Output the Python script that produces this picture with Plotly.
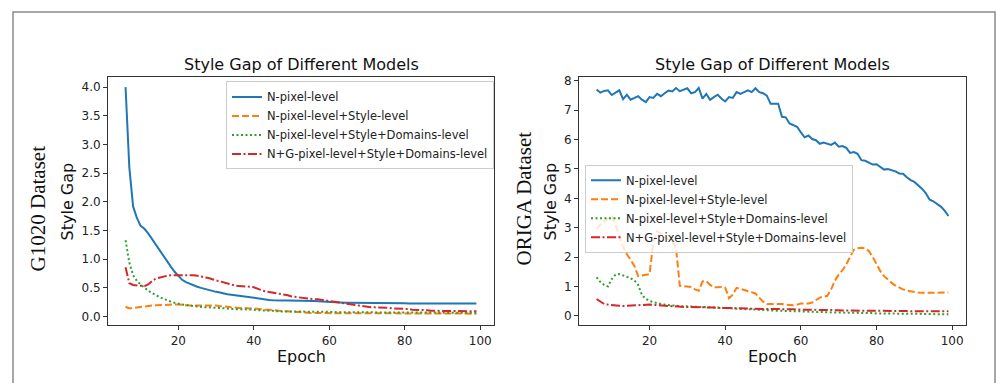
import plotly.graph_objects as go

W, H = 997, 383

epochs = list(range(6, 100))

# ---- G1020 dataset (left panel) ----
g_npixel = [4.00, 2.60, 1.92, 1.72, 1.58, 1.53, 1.45, 1.35, 1.25, 1.15,
            1.06, 0.97, 0.87, 0.78, 0.70, 0.64, 0.60, 0.57, 0.55, 0.52,
            0.50, 0.48, 0.46, 0.44, 0.43, 0.42, 0.40, 0.39, 0.38, 0.37,
            0.36, 0.35, 0.34, 0.33, 0.32, 0.31, 0.30, 0.295, 0.29, 0.285,
            0.28, 0.28, 0.28, 0.28, 0.28, 0.28, 0.28, 0.275, 0.27, 0.27,
            0.27, 0.265, 0.26, 0.26, 0.26, 0.255, 0.25, 0.245, 0.24, 0.24,
            0.24, 0.235, 0.235, 0.235, 0.235, 0.23, 0.23, 0.23, 0.23, 0.23,
            0.23, 0.23, 0.23, 0.23, 0.23, 0.225, 0.225, 0.22, 0.22, 0.22,
            0.22, 0.22, 0.22, 0.225, 0.225, 0.225, 0.225, 0.225, 0.225, 0.225,
            0.225, 0.225, 0.225, 0.225]
g_style = [0.17, 0.14, 0.15, 0.16, 0.17, 0.18, 0.185, 0.19, 0.195, 0.20,
           0.20, 0.21, 0.21, 0.21, 0.21, 0.20, 0.20, 0.19, 0.19, 0.19,
           0.20, 0.20, 0.20, 0.20, 0.19, 0.18, 0.18, 0.17, 0.16, 0.15,
           0.15, 0.15, 0.14, 0.14, 0.14, 0.13, 0.12, 0.12, 0.12, 0.11,
           0.10, 0.10, 0.09, 0.09, 0.08, 0.08, 0.08, 0.07, 0.07, 0.06,
           0.06, 0.06, 0.06, 0.06, 0.06, 0.06, 0.06, 0.06, 0.06, 0.06,
           0.055, 0.055, 0.055, 0.055, 0.055, 0.055, 0.055, 0.055, 0.055, 0.055,
           0.055, 0.055, 0.055, 0.055, 0.05, 0.05, 0.05, 0.05, 0.05, 0.05,
           0.05, 0.05, 0.05, 0.05, 0.05, 0.05, 0.05, 0.05, 0.05, 0.05,
           0.05, 0.05, 0.05, 0.05]
g_domain = [1.33, 0.94, 0.72, 0.62, 0.56, 0.50, 0.45, 0.41, 0.37, 0.34,
            0.31, 0.28, 0.26, 0.24, 0.22, 0.21, 0.20, 0.19, 0.18, 0.17,
            0.17, 0.16, 0.16, 0.15, 0.15, 0.15, 0.14, 0.14, 0.13, 0.13,
            0.13, 0.12, 0.12, 0.12, 0.12, 0.11, 0.11, 0.10, 0.10, 0.10,
            0.09, 0.09, 0.09, 0.09, 0.09, 0.085, 0.085, 0.085, 0.08, 0.08,
            0.08, 0.08, 0.08, 0.08, 0.08, 0.08, 0.075, 0.075, 0.075, 0.075,
            0.075, 0.075, 0.075, 0.075, 0.07, 0.07, 0.07, 0.07, 0.07, 0.07,
            0.07, 0.07, 0.07, 0.07, 0.07, 0.07, 0.07, 0.07, 0.07, 0.07,
            0.065, 0.065, 0.065, 0.065, 0.065, 0.065, 0.065, 0.065, 0.065, 0.065,
            0.065, 0.065, 0.065, 0.065]
g_ng = [0.86, 0.58, 0.55, 0.54, 0.54, 0.53, 0.56, 0.62, 0.66, 0.68,
        0.70, 0.71, 0.72, 0.72, 0.72, 0.72, 0.73, 0.72, 0.72, 0.71,
        0.70, 0.69, 0.67, 0.65, 0.63, 0.61, 0.59, 0.57, 0.55, 0.54,
        0.53, 0.53, 0.52, 0.52, 0.51, 0.48, 0.46, 0.44, 0.43, 0.41,
        0.40, 0.39, 0.38, 0.37, 0.35, 0.34, 0.33, 0.32, 0.31, 0.31,
        0.30, 0.30, 0.29, 0.28, 0.27, 0.26, 0.24, 0.23, 0.22, 0.21,
        0.20, 0.19, 0.18, 0.17, 0.17, 0.16, 0.16, 0.16, 0.15, 0.15,
        0.15, 0.14, 0.14, 0.14, 0.13, 0.13, 0.12, 0.12, 0.12, 0.11,
        0.11, 0.10, 0.10, 0.10, 0.10, 0.09, 0.09, 0.09, 0.09, 0.09,
        0.09, 0.09, 0.09, 0.09]

# ---- ORIGA dataset (right panel) ----
o_npixel = [7.71, 7.60, 7.66, 7.68, 7.52, 7.60, 7.68, 7.38, 7.53, 7.36,
            7.42, 7.48, 7.36, 7.28, 7.45, 7.42, 7.56, 7.48, 7.58, 7.67,
            7.64, 7.76, 7.65, 7.70, 7.75, 7.58, 7.62, 7.76, 7.40, 7.56,
            7.36, 7.45, 7.53, 7.40, 7.30, 7.45, 7.42, 7.62, 7.56, 7.62,
            7.68, 7.62, 7.75, 7.62, 7.58, 7.50, 7.22, 7.22, 7.22, 6.78,
            6.76, 6.55, 6.50, 6.44, 6.25, 6.08, 6.14, 6.02, 5.98, 5.86,
            5.90, 5.87, 5.82, 5.90, 5.76, 5.78, 5.72, 5.55, 5.58, 5.52,
            5.30, 5.28, 5.20, 5.15, 5.16, 5.06, 4.98, 5.00, 4.97, 4.92,
            4.85, 4.84, 4.72, 4.62, 4.56, 4.45, 4.33, 4.18, 3.96, 3.90,
            3.82, 3.72, 3.58, 3.40]
o_style = [2.95, 3.10, 3.20, 3.30, 3.40, 3.10, 2.70, 2.35, 2.10, 1.90,
           1.70, 1.35, 1.37, 1.38, 1.42, 2.50, 2.88, 2.80, 2.70, 2.60,
           2.55, 2.30, 1.02, 1.00, 1.00, 0.98, 0.90, 0.85, 1.17, 1.18,
           1.05, 0.97, 0.97, 0.98, 0.96, 0.60, 0.72, 0.95, 0.92, 0.88,
           0.84, 0.80, 0.76, 0.62, 0.48, 0.40, 0.40, 0.42, 0.42, 0.40,
           0.38, 0.36, 0.36, 0.38, 0.42, 0.42, 0.42, 0.45, 0.55, 0.62,
           0.65, 0.68, 0.90, 1.20, 1.40, 1.55, 1.75, 2.00, 2.25, 2.30,
           2.32, 2.30, 2.20, 2.00, 1.75, 1.52, 1.35, 1.22, 1.12, 1.03,
           0.96, 0.90, 0.86, 0.83, 0.81, 0.79, 0.78, 0.78, 0.78, 0.78,
           0.78, 0.78, 0.79, 0.79]
o_domain = [1.31, 1.15, 1.05, 1.00, 1.25, 1.40, 1.42, 1.38, 1.33, 1.28,
            1.20, 1.05, 0.70, 0.58, 0.50, 0.46, 0.42, 0.40, 0.38, 0.36,
            0.35, 0.34, 0.33, 0.33, 0.32, 0.32, 0.31, 0.30, 0.30, 0.29,
            0.29, 0.28, 0.28, 0.27, 0.26, 0.26, 0.25, 0.24, 0.24, 0.23,
            0.22, 0.22, 0.21, 0.20, 0.20, 0.19, 0.18, 0.18, 0.17, 0.17,
            0.16, 0.16, 0.15, 0.15, 0.15, 0.14, 0.14, 0.13, 0.13, 0.13,
            0.12, 0.12, 0.12, 0.11, 0.11, 0.11, 0.10, 0.10, 0.10, 0.10,
            0.09, 0.09, 0.09, 0.09, 0.08, 0.08, 0.08, 0.08, 0.08, 0.07,
            0.07, 0.07, 0.07, 0.07, 0.06, 0.06, 0.06, 0.06, 0.06, 0.06,
            0.05, 0.05, 0.05, 0.05]
o_ng = [0.57, 0.47, 0.40, 0.38, 0.36, 0.35, 0.34, 0.33, 0.34, 0.35,
        0.36, 0.37, 0.38, 0.38, 0.38, 0.37, 0.36, 0.34, 0.33, 0.32,
        0.32, 0.31, 0.31, 0.30, 0.30, 0.30, 0.29, 0.29, 0.29, 0.28,
        0.28, 0.28, 0.27, 0.27, 0.27, 0.26, 0.26, 0.26, 0.25, 0.25,
        0.25, 0.24, 0.24, 0.24, 0.24, 0.23, 0.23, 0.23, 0.23, 0.22,
        0.22, 0.22, 0.22, 0.21, 0.21, 0.21, 0.21, 0.20, 0.20, 0.20,
        0.20, 0.19, 0.19, 0.19, 0.19, 0.18, 0.18, 0.18, 0.18, 0.18,
        0.17, 0.17, 0.17, 0.17, 0.17, 0.17, 0.16, 0.16, 0.16, 0.16,
        0.16, 0.16, 0.16, 0.15, 0.15, 0.15, 0.15, 0.15, 0.15, 0.15,
        0.15, 0.15, 0.15, 0.15]

names = ["N-pixel-level", "N-pixel-level+Style-level",
         "N-pixel-level+Style+Domains-level", "N+G-pixel-level+Style+Domains-level"]
colors = ["#1f77b4", "#ff7f0e", "#2ca02c", "#d62728"]
dashes = ["solid", "7px,3px", "2px,2.5px", "9px,2.5px,2px,2.5px"]

SANS = "DejaVu Sans"
SERIF = "Liberation Serif"

fig = go.Figure()
for i, ys in enumerate([g_npixel, g_style, g_domain, g_ng]):
    fig.add_trace(go.Scatter(x=epochs, y=ys, mode="lines", name=names[i],
                             line=dict(color=colors[i], width=2, dash=dashes[i]),
                             xaxis="x", yaxis="y", legend="legend"))
for i, ys in enumerate([o_npixel, o_style, o_domain, o_ng]):
    fig.add_trace(go.Scatter(x=epochs, y=ys, mode="lines", name=names[i],
                             line=dict(color=colors[i], width=2, dash=dashes[i]),
                             xaxis="x2", yaxis="y2", legend="legend2"))

def px(x):
    return x / W

def py(y):
    return 1 - y / H

axis_common = dict(showline=True, mirror=True, linecolor="#333", linewidth=1,
                   ticks="outside", ticklen=4, tickcolor="#333", showgrid=False,
                   zeroline=False, tickfont=dict(family=SANS, size=12, color="#222"))

legend_common = dict(xanchor="left", yanchor="top",
                     bgcolor="rgba(255,255,255,0.8)", bordercolor="#cccccc", borderwidth=1,
                     font=dict(family=SANS, size=11.5, color="#222"), tracegroupgap=0)

dom_y = [py(325), py(75)]
fig.update_layout(
    width=W, height=H, autosize=False,
    margin=dict(l=0, r=0, t=0, b=0, pad=0),
    paper_bgcolor="white", plot_bgcolor="white",
    xaxis=dict(domain=[px(108), px(494)], range=[1.35, 103.65], anchor="y",
               tickvals=[20, 40, 60, 80, 100], **axis_common),
    yaxis=dict(domain=dom_y, range=[-0.156, 4.17], anchor="x",
               tickvals=[0, 0.5, 1, 1.5, 2, 2.5, 3, 3.5, 4], tickformat=".1f", **axis_common),
    xaxis2=dict(domain=[px(579), px(966)], range=[1.35, 103.65], anchor="y2",
                tickvals=[20, 40, 60, 80, 100], **axis_common),
    yaxis2=dict(domain=dom_y, range=[-0.33, 8.12], anchor="x2",
                tickvals=[0, 1, 2, 3, 4, 5, 6, 7, 8], **axis_common),
    legend=dict(x=px(226), y=py(79), **legend_common),
    legend2=dict(x=px(585), y=py(163), **legend_common),
    showlegend=True,
)

annots = [
    dict(text="Style Gap of Different Models", x=px(301), y=py(62), size=16, fam=SANS, angle=0),
    dict(text="Style Gap of Different Models", x=px(772), y=py(62), size=16, fam=SANS, angle=0),
    dict(text="Epoch", x=px(301), y=py(356), size=16, fam=SANS, angle=0),
    dict(text="Epoch", x=px(772), y=py(356), size=16, fam=SANS, angle=0),
    dict(text="Style Gap", x=px(67), y=py(200), size=16, fam=SANS, angle=-90),
    dict(text="Style Gap", x=px(550), y=py(200), size=16, fam=SANS, angle=-90),
    dict(text="G1020 Dataset", x=px(38), y=py(207), size=21, fam=SERIF, angle=-90),
    dict(text="ORIGA Dataset", x=px(524), y=py(197), size=21, fam=SERIF, angle=-90),
]
for a in annots:
    fig.add_annotation(text=a["text"], x=a["x"], y=a["y"], xref="paper", yref="paper",
                       xanchor="center", yanchor="middle", showarrow=False,
                       textangle=a["angle"], font=dict(family=a["fam"], size=a["size"], color="#111"))

# outer grey frame of the figure
fig.add_shape(type="rect", xref="paper", yref="paper",
              x0=px(13), x1=px(995), y0=-0.1, y1=py(9),
              line=dict(color="#8a8a8a", width=1.5), fillcolor="rgba(0,0,0,0)", layer="below")

fig.write_html("out.html")
